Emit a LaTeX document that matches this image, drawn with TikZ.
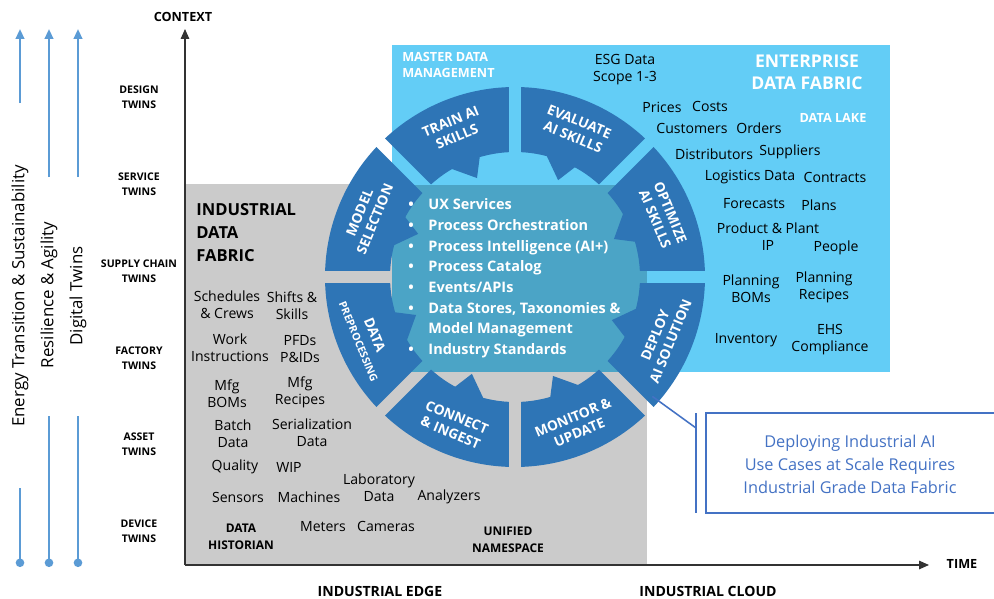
\documentclass[tikz,border=0pt]{standalone}
\usepackage{fontspec}
\setmainfont{Open Sans}
\usetikzlibrary{arrows.meta}

\definecolor{lakeblue}{HTML}{63CDF6}
\definecolor{coreblue}{HTML}{4BA4C6}
\definecolor{segblue}{HTML}{2E75B6}
\definecolor{edgegray}{HTML}{CBCBCB}
\definecolor{trendblue}{HTML}{5B9BD5}
\definecolor{noteblue}{HTML}{4472C4}

\tikzset{
  twin/.style={font=\bfseries\fontsize{7.5}{10.7}\selectfont, align=center, inner sep=0pt},
  item/.style={font=\fontsize{10}{12}\selectfont, align=center, inner sep=0pt},
  bolditem/.style={font=\bfseries\fontsize{8.5}{12}\selectfont, align=center, inner sep=0pt},
  whitehead/.style={text=white, font=\bfseries\fontsize{9}{11.4}\selectfont, inner sep=0pt},
  seglabel/.style={text=white, font=\bfseries\fontsize{9.8}{11.8}\selectfont, align=center, inner sep=0pt},
  trend/.style={trendblue, line width=1.6pt},
  axis/.style={line width=0.9pt, black!80, -{Triangle[length=7pt,width=6pt]}}
}

% one ring piece, from gap angle #1 to #1+45, tail in the middle
\newcommand{\ringseg}[1]{%
  \fill[segblue] ({#1+1.83}:190) arc[start angle={#1+1.83}, end angle={#1+43.17}, radius=190]
    -- ({#1+42.2}:125) arc[start angle={#1+42.2}, end angle={#1+2.8}, radius=125] -- cycle;
  \fill[segblue] ({#1+31}:127) -- ({#1+21}:106) -- ({#1+16}:127) -- cycle;
}

\begin{document}
\begin{tikzpicture}[x=0.025cm, y=-0.025cm]
\useasboundingbox (0,0) rectangle (994,599);
\fill[white] (0,0) rectangle (994,599);

% fabrics
\fill[edgegray] (185,184) rectangle (647,565);
\fill[lakeblue] (392,45) rectangle (890,372);
\fill[coreblue] (392,185) rectangle (647,372);

% ring
\begin{scope}[shift={(515,277)}, y=0.025cm]
\ringseg{0}
\ringseg{45}
\ringseg{90}
\ringseg{135}
\ringseg{180}
\ringseg{225}
\ringseg{270}
\ringseg{315}
\node[seglabel, rotate=22.5] (train) at (112.5:160) {TRAIN AI\\SKILLS};
\node[seglabel, rotate=-22.5] (evaluate) at (67.5:160) {EVALUATE\\AI SKILLS};
\node[seglabel, rotate=-67.5] (optimize) at (22.5:160) {OPTIMIZE\\AI SKILLS};
\node[seglabel, rotate=67.5] (deploy) at (-22.5:160) {DEPLOY\\AI SOLUTION};
\node[seglabel, rotate=22.5] (monitor) at (-67.5:160) {MONITOR \&\\UPDATE};
\node[seglabel, rotate=-22.5] (connect) at (-112.5:160) {CONNECT\\\& INGEST};
\node[seglabel, rotate=-67.5] (prep) at (-157.5:160) {DATA\\{\fontsize{7.5}{8.5}\selectfont PREPROCESSING}};
\node[seglabel, rotate=67.5] (model) at (157.5:160) {MODEL\\SELECTION};
\coordinate (deploytip) at (-41:182);
\end{scope}

% axes
\coordinate (origin) at (185,565);
\coordinate (ctxtip) at (185,29);
\coordinate (timetip) at (929,565);
\draw[axis] (origin) -- (ctxtip);
\draw[axis] (origin) -- (timetip);
\node[font=\bfseries\fontsize{9}{11}\selectfont] (context) at (183,17) {CONTEXT};
\node[font=\bfseries\fontsize{9}{11}\selectfont] (time) at (962,564) {TIME};
\node[font=\bfseries\fontsize{10}{12}\selectfont] (edge) at (380,591) {INDUSTRIAL EDGE};
\node[font=\bfseries\fontsize{10}{12}\selectfont] (cloud) at (708,591) {INDUSTRIAL CLOUD};

% trend arrows
\coordinate (e1) at (20,29);  \coordinate (e2) at (20,103);
\coordinate (e3) at (20,488); \coordinate (e4) at (20,567);
\coordinate (r1) at (49,29);  \coordinate (r2) at (49,177);
\coordinate (r3) at (49,416); \coordinate (r4) at (49,567);
\coordinate (d1) at (78,29);  \coordinate (d2) at (78,177);
\coordinate (d3) at (78,416); \coordinate (d4) at (78,567);
\draw[trend, -{Triangle[length=7pt,width=6pt]}] (e2) -- (e1);
\draw[trend, -{Triangle[length=7pt,width=6pt]}] (r2) -- (r1);
\draw[trend, -{Triangle[length=7pt,width=6pt]}] (d2) -- (d1);
\draw[trend, -{Circle[length=6pt]}] (e3) -- (e4);
\draw[trend, -{Circle[length=6pt]}] (r3) -- (r4);
\draw[trend, -{Circle[length=6pt]}] (d3) -- (d4);
\node[rotate=90, font=\fontsize{12}{14}\selectfont] (energy) at (20,296) {Energy Transition \& Sustainability};
\node[rotate=90, font=\fontsize{12}{14}\selectfont] (resil) at (49,295) {Resilience \& Agility};
\node[rotate=90, font=\fontsize{12}{14}\selectfont] (digital) at (78,296) {Digital Twins};

% twin levels
\node[twin] (design) at (139,97) {DESIGN\\TWINS};
\node[twin] (service) at (139,184) {SERVICE\\TWINS};
\node[twin] (supply) at (139,271) {SUPPLY CHAIN\\TWINS};
\node[twin] (factory) at (139,358) {FACTORY\\TWINS};
\node[twin] (asset) at (139,444) {ASSET\\TWINS};
\node[twin] (device) at (139,531) {DEVICE\\TWINS};

% industrial data fabric
\node[font=\bfseries\fontsize{11.8}{16.4}\selectfont, align=left, anchor=west, inner sep=0pt] (idf) at (196,233) {INDUSTRIAL\\DATA\\FABRIC};
\node[item] (sched) at (227,305) {Schedules\\\& Crews};
\node[item] (shifts) at (292,306) {Shifts \&\\Skills};
\node[item] (work) at (230,348) {Work\\Instructions};
\node[item] (pfd) at (300,349) {PFDs\\P\&IDs};
\node[item] (mfgbom) at (227,394) {Mfg\\BOMs};
\node[item] (mfgrec) at (300,392) {Mfg\\Recipes};
\node[item] (batch) at (233,434) {Batch\\Data};
\node[item] (serial) at (312,433) {Serialization\\Data};
\node[item] (quality) at (235,467) {Quality};
\node[item] (wip) at (289,467) {WIP};
\node[item] (lab) at (379,488) {Laboratory\\Data};
\node[item] (sensors) at (238,497) {Sensors};
\node[item] (machines) at (309,497) {Machines};
\node[item] (analyzers) at (449,497) {Analyzers};
\node[item] (meters) at (323,527) {Meters};
\node[item] (cameras) at (386,526) {Cameras};
\node[bolditem] (historian) at (241,537) {DATA\\HISTORIAN};
\node[bolditem] (unified) at (508,540) {UNIFIED\\NAMESPACE};

% enterprise data fabric
\node[whitehead, align=left, anchor=west] (master) at (402,65) {MASTER DATA\\MANAGEMENT};
\node[text=white, font=\bfseries\fontsize{12.5}{15.6}\selectfont, align=center, inner sep=0pt] (enterprise) at (807,72) {ENTERPRISE\\DATA FABRIC};
\node[whitehead] (lake) at (833,118) {DATA LAKE};
\node[item] (esg) at (625,70) {ESG Data\\Scope 1-3};
\node[item] (prices) at (662,107) {Prices};
\node[item] (costs) at (710,106) {Costs};
\node[item] (customers) at (692,128) {Customers};
\node[item] (orders) at (759,128) {Orders};
\node[item] (distrib) at (714,154) {Distributors};
\node[item] (suppliers) at (790,152) {Suppliers};
\node[item] (logistics) at (750,177) {Logistics Data};
\node[item] (contracts) at (835,177) {Contracts};
\node[item] (forecasts) at (754,204) {Forecasts};
\node[item] (plans) at (819,205) {Plans};
\node[item] (plantip) at (768,237) {Product \& Plant\\IP};
\node[item] (people) at (836,248) {People};
\node[item] (planbom) at (751,289) {Planning\\BOMs};
\node[item] (planrec) at (824,287) {Planning\\Recipes};
\node[item] (inventory) at (746,340) {Inventory};
\node[item] (ehs) at (830,340) {EHS\\Compliance};

% core services
\node[text=white, font=\bfseries\fontsize{10.3}{14.7}\selectfont, anchor=west, inner sep=0pt] (core) at (408,278) {%
  \begin{tabular}{@{}l@{\hspace{10.5pt}}l@{}}
  \textbullet & UX Services\\
  \textbullet & Process Orchestration\\
  \textbullet & Process Intelligence (AI+)\\
  \textbullet & Process Catalog\\
  \textbullet & Events/APIs\\
  \textbullet & Data Stores, Taxonomies \&\\
              & Model Management\\
  \textbullet & Industry Standards
  \end{tabular}};

% callout
\coordinate (barhit) at (696,428);
\coordinate (bartop) at (696,413);
\coordinate (barbot) at (696,513);
\draw[noteblue, line width=1.1pt] (deploytip) -- (barhit);
\draw[noteblue, line width=1.1pt] (bartop) -- (barbot);
\draw[noteblue, line width=1.1pt] (1000,413) -- (706,413) -- (706,513) -- (1000,513);
\node[text=noteblue, font=\fontsize{11.6}{16.4}\selectfont, align=center] (note) at (850,464) {Deploying Industrial AI\\Use Cases at Scale Requires\\Industrial Grade Data Fabric};

\end{tikzpicture}
\end{document}
